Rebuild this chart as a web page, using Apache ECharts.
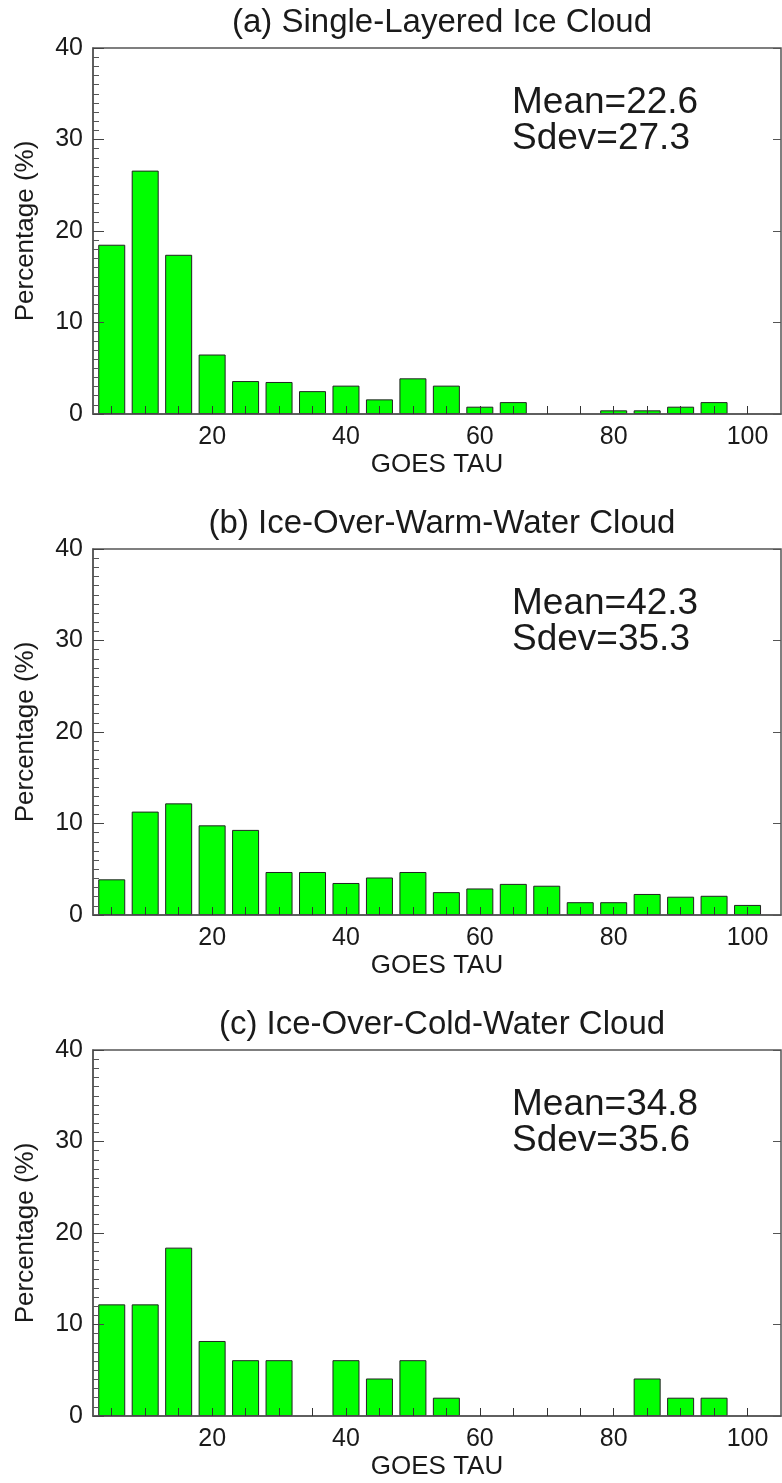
<!DOCTYPE html>
<html>
<head>
<meta charset="utf-8">
<script src="https://cdn.jsdelivr.net/npm/echarts@6/dist/echarts.min.js"></script>
<style>
html,body{margin:0;padding:0;background:#fff;}
#chart{width:782px;height:1483px;}
</style>
</head>
<body>
<div id="chart"></div>
<script>
// ---- data ----
const binCenters = [5,10,15,20,25,30,35,40,45,50,55,60,65,70,75,80,85,90,95,100];
const singleLayeredIce = [18.5,26.6,17.4,6.5,3.6,3.5,2.5,3.1,1.6,3.9,3.1,0.8,1.3,0,0,0.4,0.4,0.8,1.3,0];
const iceOverWarmWater = [3.9,11.3,12.2,9.8,9.3,4.7,4.7,3.5,4.1,4.7,2.5,2.9,3.4,3.2,1.4,1.4,2.3,2.0,2.1,1.1];
const iceOverColdWater = [12.2,12.2,18.4,8.2,6.1,6.1,0,6.1,4.1,6.1,2.0,0,0,0,0,0,4.1,2.0,2.0,0];
const panelTitles = ['(a) Single-Layered Ice Cloud','(b) Ice-Over-Warm-Water Cloud','(c) Ice-Over-Cold-Water Cloud'];
const means = ['22.6','42.3','34.8'];
const sdevs = ['27.3','35.3','35.6'];
const xLabelValues = [20,40,60,80,100];
const yTicks = [0,10,20,30,40];
const xAxisTitle = 'GOES TAU';
const yAxisTitle = 'Percentage (%)';

const seriesData = [singleLayeredIce, iceOverWarmWater, iceOverColdWater];

// ---- layout ----
const panelTops = [48, 549, 1050];
const panelHeight = 366;
const FONT = '"Liberation Sans", Arial, Helvetica, sans-serif';
const TXT = '#1a1a1a';
const AX = '#555';

const grids = [], xAxes = [], yAxes = [], series = [], titles = [];
panelTops.forEach((top, i) => {
  grids.push({left: 93, right: 1, top: top, height: panelHeight, show: true,
    borderColor: AX, borderWidth: 1.5, backgroundColor: 'transparent', containLabel: false});
  xAxes.push({
    type: 'value', gridIndex: i, min: 2.2, max: 105, z: 5,
    name: xAxisTitle, nameLocation: 'middle', nameGap: 38,
    nameTextStyle: {fontFamily: FONT, fontSize: 26, color: TXT},
    axisLine: {show: true, onZero: false, lineStyle: {color: AX, width: 1.5}},
    axisTick: {show: true, inside: true, length: 8, customValues: binCenters,
      lineStyle: {color: '#333', width: 1}},
    axisLabel: {show: true, margin: 11, fontFamily: FONT, fontSize: 25, color: TXT,
      customValues: xLabelValues},
    splitLine: {show: false}
  });
  yAxes.push({
    type: 'value', gridIndex: i, min: 0, max: 40, interval: 10, position: 'left', z: 5,
    name: yAxisTitle, nameLocation: 'middle', nameGap: 54, nameRotate: 90,
    nameTextStyle: {fontFamily: FONT, fontSize: 26, color: TXT},
    axisLine: {show: true, lineStyle: {color: AX, width: 1.5}},
    axisTick: {show: true, inside: true, length: 11, lineStyle: {color: '#444', width: 1}},
    minorTick: {show: true, splitNumber: 10, length: 6, lineStyle: {color: '#555', width: 1}},
    axisLabel: {show: true, margin: 10, fontFamily: FONT, fontSize: 25, color: TXT},
    splitLine: {show: false}
  });
  yAxes.push({
    type: 'value', gridIndex: i, min: 0, max: 40, interval: 10, position: 'right', z: 5,
    axisLine: {show: false},
    axisTick: {show: true, inside: true, length: 8, lineStyle: {color: '#555', width: 1}},
    axisLabel: {show: false},
    splitLine: {show: false}
  });
  const data = [];
  binCenters.forEach((c, k) => { if (seriesData[i][k] > 0) data.push([c, seriesData[i][k]]); });
  series.push({
    type: 'bar', xAxisIndex: i, yAxisIndex: 2 * i, barWidth: 27, data: data,
    itemStyle: {color: '#00ff00', borderColor: '#222', borderWidth: 1},
    animation: false, silent: true
  });
  titles.push({
    text: panelTitles[i], left: 442, top: top - 42, textAlign: 'center', padding: 0,
    textStyle: {fontFamily: FONT, fontSize: 33, fontWeight: 'normal', color: TXT, lineHeight: 33}
  });
  titles.push({
    text: 'Mean=' + means[i] + '\nSdev=' + sdevs[i], left: 512, top: top + 37, padding: 0,
    textStyle: {fontFamily: FONT, fontSize: 37, fontWeight: 'normal', color: TXT, lineHeight: 36}
  });
});

const chart = echarts.init(document.getElementById('chart'), null, {renderer: 'canvas'});
chart.setOption({
  animation: false,
  backgroundColor: '#fff',
  title: titles,
  grid: grids,
  xAxis: xAxes,
  yAxis: yAxes,
  series: series
});
</script>
</body>
</html>
